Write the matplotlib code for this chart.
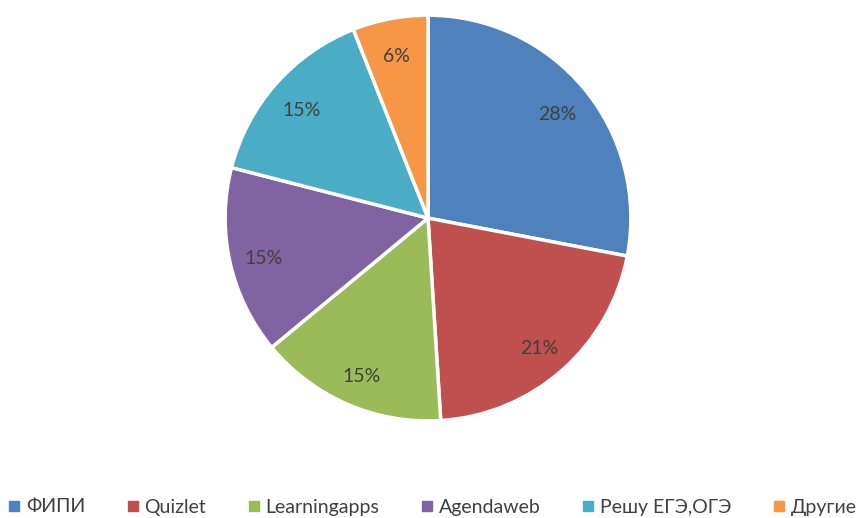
import matplotlib

matplotlib.use("Agg")
import matplotlib.pyplot as plt
from matplotlib.lines import Line2D

plt.rcParams["font.family"] = ["Lato", "DejaVu Sans"]

labels = ["ФИПИ", "Quizlet", "Learningapps", "Agendaweb", "Решу ЕГЭ,ОГЭ", "Другие"]
values = [28, 21, 15, 15, 15, 6]
colors = ["#4F81BD", "#C0504D", "#9BBB59", "#8064A2", "#4BACC6", "#F79646"]

fig = plt.figure(figsize=(8.56, 5.18), dpi=100)
# квадратные оси: центр (428, 218) px, радиус ~202 px
ax = fig.add_axes([0.5 - 0.237, 0.579 - 0.392, 0.474, 0.784])

wedges, texts, autotexts = ax.pie(
    values,
    colors=colors,
    startangle=90,
    counterclock=False,
    autopct="%d%%",
    pctdistance=0.83,
    wedgeprops={"edgecolor": "white", "linewidth": 2.5, "clip_on": False},
    textprops={"color": "#404040", "fontsize": 14},
)
# подписи чуть ниже, как в оригинале
for t in autotexts:
    t.set_y(t.get_position()[1] - 0.02)
ax.set_xlim(-1, 1)
ax.set_ylim(-1, 1)

handles = [
    Line2D([], [], marker="s", linestyle="", markersize=7, color=c, label=l)
    for c, l in zip(colors, labels)
]
fig.legend(
    handles=handles,
    loc="center",
    bbox_to_anchor=(0.503, 1 - 507 / 518),
    ncol=6,
    frameon=False,
    fontsize=14,
    handletextpad=0.1,
    columnspacing=1.95,
    handlelength=1.0,
    labelcolor="#404040",
)

fig.savefig("out.png", dpi=100)
